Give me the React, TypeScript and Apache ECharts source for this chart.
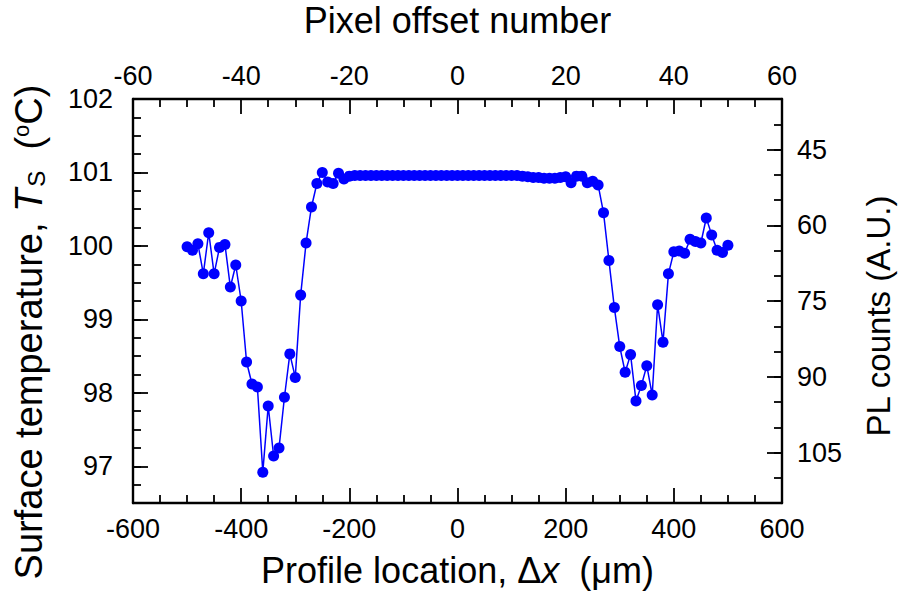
import React, { useEffect, useRef } from "react";
import * as echarts from "echarts";

// Profile location along the scan (µm); one pixel = 10 µm
const profileLocation = [
  -500, -490, -480, -470, -460, -450, -440, -430, -420, -410,
  -400, -390, -380, -370, -360, -350, -340, -330, -320, -310,
  -300, -290, -280, -270, -260, -250, -240, -230, -220, -210,
  -200, -190, -180, -170, -160, -150, -140, -130, -120, -110,
  -100, -90, -80, -70, -60, -50, -40, -30, -20, -10,
  0, 10, 20, 30, 40, 50, 60, 70, 80, 90,
  100, 110, 120, 130, 140, 150, 160, 170, 180, 190,
  200, 210, 220, 230, 240, 250, 260, 270, 280, 290,
  300, 310, 320, 330, 340, 350, 360, 370, 380, 390,
  400, 410, 420, 430, 440, 450, 460, 470, 480, 490,
  500,
];

// Surface temperature T_S (°C) at each location
const surfaceTemp = [
  99.99, 99.94, 100.03, 99.62, 100.18, 99.62, 99.98, 100.02, 99.44, 99.74,
  99.25, 98.42, 98.12, 98.08, 96.92, 97.82, 97.14, 97.25, 97.94, 98.53,
  98.21, 99.33, 100.04, 100.53, 100.85, 101.0, 100.87, 100.85, 100.99, 100.91,
  100.95, 100.96, 100.96, 100.96, 100.96, 100.96, 100.96, 100.96, 100.96, 100.96,
  100.96, 100.96, 100.96, 100.96, 100.96, 100.96, 100.96, 100.96, 100.96, 100.96,
  100.96, 100.96, 100.96, 100.96, 100.96, 100.96, 100.96, 100.96, 100.96, 100.96,
  100.96, 100.96, 100.95, 100.94, 100.93, 100.93, 100.92, 100.92, 100.92, 100.93,
  100.94, 100.86, 100.95, 100.95, 100.86, 100.88, 100.83, 100.45, 99.8, 99.16,
  98.63, 98.28, 98.52, 97.89, 98.1, 98.37, 97.97, 99.2, 98.69, 99.62,
  99.92, 99.93, 99.9, 100.09, 100.06, 100.04, 100.38, 100.15, 99.94, 99.91,
  100.01,
];

// Axis ranges and labelled PL counts
const tempRange = [96.5, 102];
const plRange = [35, 115];
const plLabelTicks = [45, 60, 75, 90, 105];
const PL_STEP = 15;

const FONT = "'Liberation Sans', Arial, Helvetica, sans-serif";
const TICK_SIZE = 27;
const TITLE_SIZE = 36;
const LEFT_TITLE_SIZE = 38;
const INK = "#000";
const BLUE = "#0000ff";

export default function App() {
  const ref = useRef<HTMLDivElement>(null);

  useEffect(() => {
    if (!ref.current) return;
    const chart = echarts.init(ref.current, null, { renderer: "svg" });

    const frameLine = { show: true, onZero: false, lineStyle: { color: INK, width: 2.4 } };
    const hiddenLine = { show: false, onZero: false };
    const tickLine = { color: INK, width: 1.8 };
    const labelStyle = { color: INK, fontSize: TICK_SIZE, fontFamily: FONT };
    const titleBase = { color: INK, fontSize: TITLE_SIZE, fontFamily: FONT };
    const titleRich = {
      n: { ...titleBase },
      i: { ...titleBase, fontStyle: "italic" as const },
      sub: { color: INK, fontFamily: FONT, fontSize: 24, verticalAlign: "bottom" as const, padding: [0, 0, 0, 2] },
      sup: { color: INK, fontFamily: FONT, fontSize: 22, verticalAlign: "top" as const },
    };

    const option: echarts.EChartsOption = {
      animation: false,
      backgroundColor: "#fff",
      grid: {
        left: 133,
        top: 99,
        width: 649,
        height: 404,
        containLabel: false,
        outerBoundsMode: "none",
      } as any,
      xAxis: [
        {
          type: "value",
          position: "bottom",
          min: -600,
          max: 600,
          interval: 200,
          axisLine: frameLine,
          axisTick: { show: true, inside: true, length: 15, lineStyle: tickLine },
          minorTick: { show: true, splitNumber: 4, length: 8, lineStyle: tickLine },
          splitLine: { show: false },
          axisLabel: { ...labelStyle, margin: 12 },
          name: "{n|Profile location, Δ}{i|x}{n|  (μm)}",
          nameLocation: "middle",
          nameGap: 49,
          nameTextStyle: { ...titleBase, rich: titleRich },
        },
        {
          type: "value",
          position: "top",
          min: -60,
          max: 60,
          interval: 20,
          axisLine: frameLine,
          axisTick: { show: true, inside: true, length: 15, lineStyle: tickLine },
          minorTick: { show: true, splitNumber: 4, length: 8, lineStyle: tickLine },
          splitLine: { show: false },
          axisLabel: { ...labelStyle, margin: 10 },
          name: "Pixel offset number",
          nameLocation: "middle",
          nameGap: 60,
          nameTextStyle: { ...titleBase, lineHeight: 38 },
        },
      ],
      yAxis: [
        {
          // temperature axis: quarter-degree minor ticks and integer labels
          type: "value",
          position: "left",
          min: tempRange[0],
          max: tempRange[1],
          interval: 0.25,
          axisLine: frameLine,
          axisTick: { show: true, inside: true, length: 8, lineStyle: tickLine },
          splitLine: { show: false },
          axisLabel: {
            ...labelStyle,
            margin: 20,
            formatter: (v: number) => (Math.abs(v - Math.round(v)) < 1e-6 ? String(Math.round(v)) : ""),
          },
          name: "{n|Surface temperature, }{i|T}{sub|S}{n|  (}{sup|o}{n|C)}",
          nameLocation: "middle",
          nameRotate: 90,
          nameGap: 85,
          nameTextStyle: {
            ...titleBase,
            fontSize: LEFT_TITLE_SIZE,
            padding: [0, 62, 0, 0],
            rich: {
              ...titleRich,
              n: { ...titleRich.n, fontSize: LEFT_TITLE_SIZE },
              i: { ...titleRich.i, fontSize: LEFT_TITLE_SIZE },
            },
          },
        },
        {
          // long ticks at whole degrees
          type: "value",
          position: "left",
          min: tempRange[0],
          max: tempRange[1],
          minInterval: 1,
          maxInterval: 1,
          axisLine: hiddenLine,
          axisTick: { show: true, inside: true, length: 15, lineStyle: tickLine },
          axisLabel: { show: false },
          splitLine: { show: false },
        },
        {
          // PL counts axis (inverted)
          type: "value",
          position: "right",
          inverse: true,
          min: plRange[0],
          max: plRange[1],
          interval: 5,
          axisLine: frameLine,
          axisTick: { show: true, inside: true, length: 8, lineStyle: tickLine },
          splitLine: { show: false },
          axisLabel: {
            ...labelStyle,
            margin: 15,
            formatter: (v: number) => (plLabelTicks.includes(v) ? String(v) : ""),
          },
          name: "PL counts (A.U.)",
          nameLocation: "middle",
          nameRotate: 90,
          nameGap: 80,
          nameTextStyle: { ...titleBase, fontSize: 33, padding: [0, 30, 0, 0] },
        },
        {
          // long ticks at labelled PL counts, on a scale measured in 15-count steps
          type: "value",
          position: "right",
          inverse: true,
          min: plRange[0] / PL_STEP,
          max: plRange[1] / PL_STEP,
          minInterval: 1,
          maxInterval: 1,
          axisLine: hiddenLine,
          axisTick: { show: true, inside: true, length: 15, lineStyle: tickLine },
          axisLabel: { show: false },
          splitLine: { show: false },
        },
      ],
      series: [
        {
          type: "line",
          xAxisIndex: 0,
          yAxisIndex: 0,
          data: profileLocation.map((x, i) => [x, surfaceTemp[i]]),
          symbol: "circle",
          symbolSize: 11,
          itemStyle: { color: BLUE },
          lineStyle: { color: BLUE, width: 1.5 },
          z: 5,
        },
      ],
    };

    chart.setOption(option);
    return () => chart.dispose();
  }, []);

  return (
    <div
      ref={ref}
      style={{ position: "fixed", left: 0, top: 0, width: 903, height: 592, background: "#fff" }}
    />
  );
}
